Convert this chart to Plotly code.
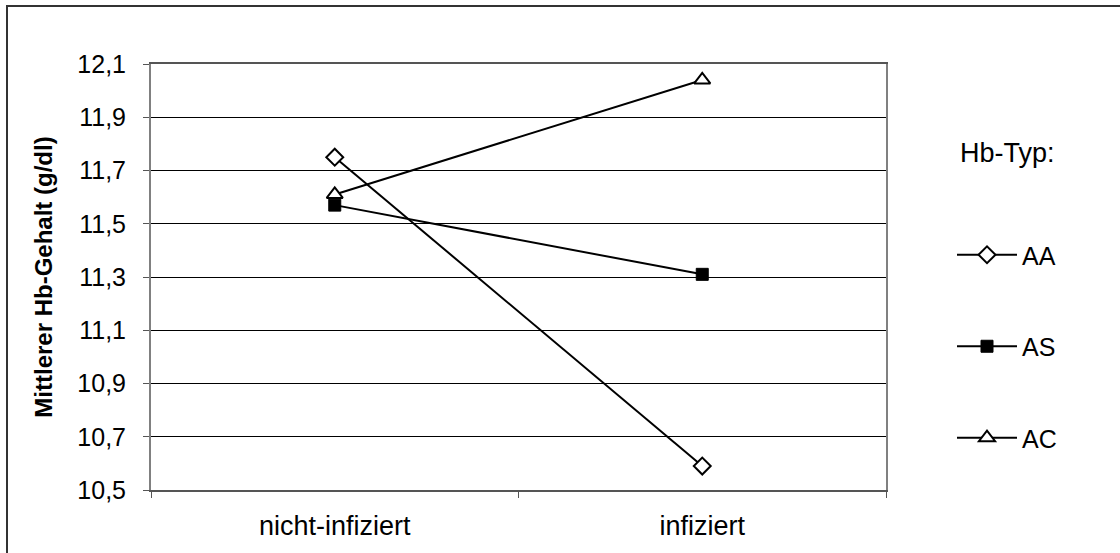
import plotly.graph_objects as go

# Mean haemoglobin content by infection status and Hb type
categories = ["nicht-infiziert", "infiziert"]
hb_aa = [11.75, 10.59]
hb_as = [11.57, 11.31]
hb_ac = [11.61, 12.04]
y_ticks = [10.5, 10.7, 10.9, 11.1, 11.3, 11.5, 11.7, 11.9, 12.1]
y_tick_labels = ["10,5", "10,7", "10,9", "11,1", "11,3", "11,5", "11,7", "11,9", "12,1"]

FONT = "Liberation Sans, Arial, sans-serif"
FS = 25

series = [
    ("AA", hb_aa, dict(symbol="diamond", size=13, color="white", line=dict(color="black", width=2))),
    ("AS", hb_as, dict(symbol="square", size=12, color="black", line=dict(color="black", width=1))),
    ("AC", hb_ac, dict(symbol="triangle-up", size=14, color="white", line=dict(color="black", width=2))),
]

fig = go.Figure()
for name, vals, marker in series:
    fig.add_trace(go.Scatter(
        x=categories, y=vals, name=name, mode="lines+markers",
        line=dict(color="black", width=2), marker=marker,
        legendgroup=name,
    ))

W, H = 1120, 553
L, R, T, B = 151, 234, 64, 63
pw, ph = W - L - R, H - T - B

def px_to_paper_x(px):
    return (px - L) / pw

def px_to_paper_y(py):
    return (H - B - py) / ph

fig.update_layout(
    width=W, height=H,
    margin=dict(l=L, r=R, t=T, b=B, autoexpand=False),
    paper_bgcolor="white", plot_bgcolor="white",
    font=dict(family=FONT, size=FS, color="black"),
    showlegend=True,
    legend=dict(
        x=px_to_paper_x(952), y=px_to_paper_y(232), xanchor="left", yanchor="top",
        font=dict(size=FS), tracegroupgap=56, itemwidth=60,
        bgcolor="rgba(0,0,0,0)",
    ),
    xaxis=dict(
        type="category", range=[-0.5, 1.5], tickson="boundaries",
        ticks="outside", ticklen=6, tickcolor="#555555", tickwidth=1,
        showline=True, linecolor="#555555", linewidth=2, mirror=True,
        showgrid=False, tickfont=dict(size=27), ticklabelstandoff=11,
    ),
    yaxis=dict(
        range=[10.5, 12.1], tickvals=y_ticks, ticktext=y_tick_labels,
        ticks="outside", ticklen=6, tickcolor="#555555", tickwidth=1,
        showline=True, linecolor="#808080", linewidth=2, mirror=True,
        showgrid=True, gridcolor="black", gridwidth=1, zeroline=False,
        tickfont=dict(size=FS), ticklabelstandoff=12,
        title=dict(text="<b>Mittlerer Hb-Gehalt (g/dl)</b>", font=dict(size=24), standoff=18),
    ),
    annotations=[dict(
        text="Hb-Typ:", xref="paper", yref="paper",
        x=px_to_paper_x(958), y=px_to_paper_y(153), xanchor="left", yanchor="middle",
        showarrow=False, font=dict(size=27),
    )],
    shapes=[dict(
        type="rect", xref="paper", yref="paper",
        x0=px_to_paper_x(7), x1=px_to_paper_x(1130),
        y0=px_to_paper_y(560), y1=px_to_paper_y(6),
        line=dict(color="#333333", width=2), fillcolor="rgba(0,0,0,0)", layer="below",
    )],
)

fig.write_html("out.html")
